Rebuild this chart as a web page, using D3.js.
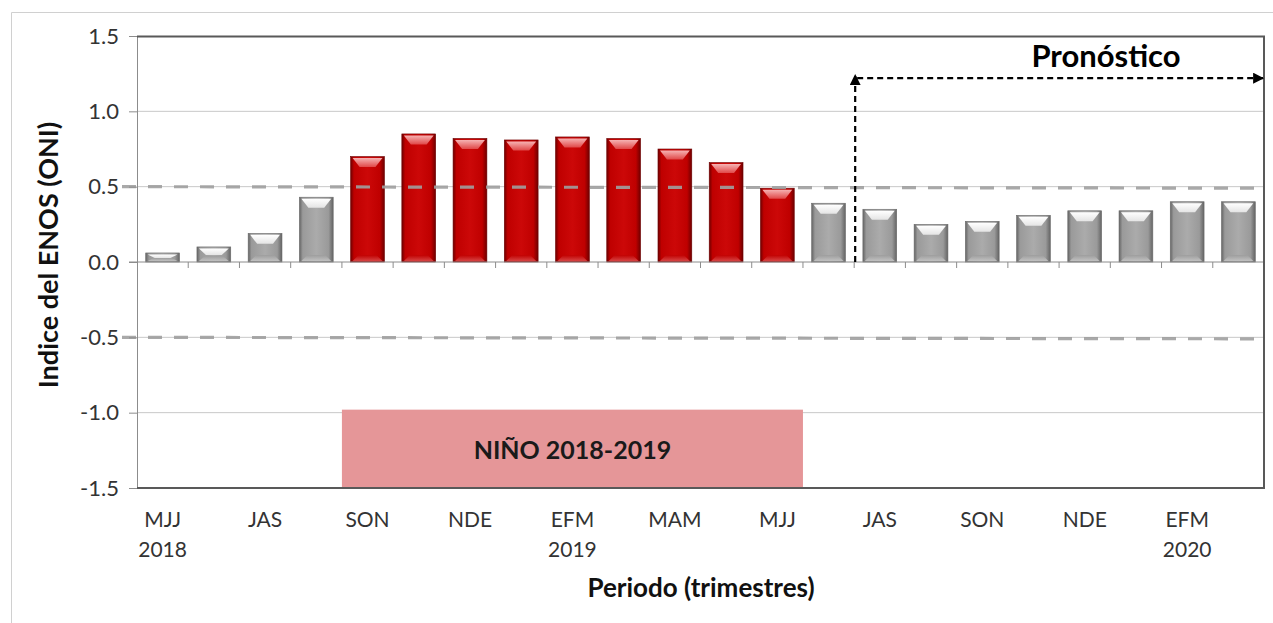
<!DOCTYPE html>
<html>
<head>
<meta charset="utf-8">
<script src="https://cdn.jsdelivr.net/npm/d3@7"></script>
<style>
  body { margin: 0; background: #fff; }
  text { font-family: Lato, "Open Sans", sans-serif; }
</style>
</head>
<body>
<div id="chart"></div>
<script>
// trimestres, May-Jun-Jul 2018 .. Feb-Mar-Apr 2020
var categories = ["MJJ18", "JJA18", "JAS18", "ASO18", "SON18", "OND18", "NDE18", "DEF18",
  "EFM19", "FMA19", "MAM19", "AMJ19", "MJJ19", "JJA19", "JAS19", "ASO19",
  "SON19", "OND19", "NDE19", "DEF19", "EFM20", "FMA20"];
var tickLabels = ["MJJ", "", "JAS", "", "SON", "", "NDE", "", "EFM", "", "MAM", "",
  "MJJ", "", "JAS", "", "SON", "", "NDE", "", "EFM", ""];
var yearLabels = ["2018", "", "", "", "", "", "", "", "2019", "", "", "",
  "", "", "", "", "", "", "", "", "2020", ""];
var oni = [0.06, 0.10, 0.19, 0.43, 0.70, 0.85, 0.82, 0.81, 0.83, 0.82, 0.75, 0.66,
  0.49, 0.39, 0.35, 0.25, 0.27, 0.31, 0.34, 0.34, 0.40, 0.40];
var ninoCats = ["SON18", "OND18", "NDE18", "DEF18", "EFM19", "FMA19", "MAM19", "AMJ19", "MJJ19"];
var forecastStart = "JAS19";
var yTicks = [-1.5, -1.0, -0.5, 0.0, 0.5, 1.0, 1.5];
var thresholds = [0.5, -0.5];

var W = 1273, H = 623;
var margin = { top: 36, right: 10, bottom: 135, left: 137 },
  width = 1264 - margin.left,
  height = 488 - margin.top;

var svg = d3.select("#chart").append("svg")
  .attr("width", W).attr("height", H);

// outer frame
svg.append("path")
  .attr("d", "M11.5," + H + "V12.5H" + W)
  .attr("fill", "none").attr("stroke", "#d0d0d0").attr("stroke-width", 1);

var g = svg.append("g")
  .attr("transform", "translate(" + margin.left + "," + margin.top + ")");

var x = d3.scaleBand().domain(categories).range([0, width]).padding(0);
var y = d3.scaleLinear().domain([-1.5, 1.5]).range([height, 0]);

var defs = svg.append("defs");
function barGrad(id, edge, mid, light) {
  var lg = defs.append("linearGradient").attr("id", id)
    .attr("x1", "0").attr("x2", "1").attr("y1", "0").attr("y2", "0");
  lg.append("stop").attr("offset", "0").attr("stop-color", edge);
  lg.append("stop").attr("offset", "0.1").attr("stop-color", mid);
  lg.append("stop").attr("offset", "0.5").attr("stop-color", light);
  lg.append("stop").attr("offset", "0.86").attr("stop-color", mid);
  lg.append("stop").attr("offset", "1").attr("stop-color", edge);
}
barGrad("gRed", "#6e0000", "#bf0000", "#cc0808");
barGrad("gGray", "#646464", "#9a9a9a", "#ababab");
function capGrad(id, top, bottom) {
  var lg = defs.append("linearGradient").attr("id", id)
    .attr("x1", "0").attr("x2", "0").attr("y1", "0").attr("y2", "1");
  lg.append("stop").attr("offset", "0").attr("stop-color", top);
  lg.append("stop").attr("offset", "1").attr("stop-color", bottom);
}
capGrad("cRed", "#f6b3b3", "#e04848");
capGrad("cGray", "#ffffff", "#e4e4e4");
capGrad("bRed", "#c00000", "#d94a4a");
capGrad("bGray", "#9c9c9c", "#c4c4c4");

// gridlines
g.append("g").selectAll("line")
  .data(yTicks.filter(function (d) { return d !== 0 && Math.abs(d) !== 1.5; }))
  .enter().append("line")
  .attr("x1", 0).attr("x2", width)
  .attr("y1", function (d) { return y(d); }).attr("y2", function (d) { return y(d); })
  .attr("stroke", "#c8c8c8").attr("stroke-width", 1);

// El Niño box
var nx0 = x(ninoCats[0]), nx1 = x(ninoCats[ninoCats.length - 1]) + x.bandwidth();
g.append("rect")
  .attr("x", nx0).attr("y", y(-0.98))
  .attr("width", nx1 - nx0).attr("height", y(-1.5) - y(-0.98))
  .attr("fill", "#e59698");
g.append("text")
  .attr("x", (nx0 + nx1) / 2).attr("y", y(-1.25))
  .attr("dy", "0.36em")
  .attr("text-anchor", "middle")
  .attr("font-size", 25).attr("font-weight", "bold").attr("fill", "#1a1a1a")
  .text("NIÑO 2018-2019");

// bars
var bw = x.bandwidth() * 0.66;
var bars = g.append("g").selectAll("g")
  .data(categories.map(function (c, i) { return { cat: c, v: oni[i], nino: ninoCats.indexOf(c) >= 0 }; }))
  .enter().append("g")
  .attr("transform", function (d) {
    return "translate(" + (x(d.cat) + (x.bandwidth() - bw) / 2) + ",0)";
  });

bars.append("rect")
  .attr("x", 0).attr("y", function (d) { return y(d.v); })
  .attr("width", bw).attr("height", function (d) { return y(0) - y(d.v); })
  .attr("fill", function (d) { return d.nino ? "url(#gRed)" : "url(#gGray)"; })
  .attr("stroke", function (d) { return d.nino ? "#6e0000" : "#6a6a6a"; })
  .attr("stroke-width", 0.6);

// top bevel face
bars.append("path")
  .attr("d", function (d) {
    var t = y(d.v) + 1.5, h = Math.min(9, (y(0) - y(d.v)) / 2 - 1);
    return "M2," + t + "H" + (bw - 2) + "L" + (bw - 9) + "," + (t + h) + "H9Z";
  })
  .attr("fill", function (d) { return d.nino ? "url(#cRed)" : "url(#cGray)"; });

// bottom bevel face
bars.append("path")
  .attr("d", function (d) {
    var b = y(0) - 1, h = Math.min(6, (y(0) - y(d.v)) / 3);
    return "M2," + b + "H" + (bw - 2) + "L" + (bw - 8) + "," + (b - h) + "H8Z";
  })
  .attr("fill", function (d) { return d.nino ? "url(#bRed)" : "url(#bGray)"; })
  .attr("opacity", 0.9);

// threshold dashed lines
g.append("g").selectAll("line")
  .data(thresholds).enter().append("line")
  .attr("x1", -15).attr("x2", width)
  .attr("y1", function (d) { return y(d); }).attr("y2", function (d) { return y(d) + 1.5; })
  .attr("stroke", "#a0a0a0").attr("stroke-width", 3.2)
  .attr("stroke-dasharray", "14,12").attr("opacity", 0.9);

// zero axis with category ticks
g.append("line")
  .attr("x1", -8).attr("x2", width)
  .attr("y1", y(0)).attr("y2", y(0))
  .attr("stroke", "#8c8c8c").attr("stroke-width", 1);
g.append("g").selectAll("line")
  .data(categories.slice(1)).enter().append("line")
  .attr("x1", function (d) { return x(d); }).attr("x2", function (d) { return x(d); })
  .attr("y1", y(0)).attr("y2", y(0) + 6)
  .attr("stroke", "#8c8c8c").attr("stroke-width", 1);

// y axis (plain hyphen as minus, like the original)
var yAxis = g.append("g")
  .call(d3.axisLeft(y).tickValues(yTicks).tickSize(8).tickPadding(10)
    .tickFormat(function (d) { return d.toFixed(1); }));
yAxis.select(".domain").attr("stroke", "#8c8c8c");
yAxis.selectAll(".tick line").attr("stroke", "#8c8c8c");
yAxis.selectAll(".tick text")
  .attr("font-size", 22).attr("fill", "#333")
  .style("font-family", "Lato, 'Open Sans', sans-serif");

// plot frame (top, right, bottom)
g.append("path")
  .attr("d", "M0,0.5H" + width + "V" + height + "H0")
  .attr("fill", "none").attr("stroke", "#595959").attr("stroke-width", 2);

// x labels
var xl = g.append("g").attr("transform", "translate(0," + (height + 39) + ")");
xl.selectAll("text.t1")
  .data(categories).enter().append("text")
  .attr("class", "t1")
  .attr("x", function (d) { return x(d) + x.bandwidth() / 2; })
  .attr("text-anchor", "middle")
  .attr("font-size", 21).attr("fill", "#333")
  .text(function (d, i) { return tickLabels[i]; });
xl.selectAll("text.t2")
  .data(categories).enter().append("text")
  .attr("class", "t2")
  .attr("x", function (d) { return x(d) + x.bandwidth() / 2; })
  .attr("y", 30)
  .attr("text-anchor", "middle")
  .attr("font-size", 21).attr("fill", "#333")
  .text(function (d, i) { return yearLabels[i]; });

// axis titles
svg.append("text")
  .attr("x", 701).attr("y", 597)
  .attr("text-anchor", "middle")
  .attr("font-size", 26).attr("font-weight", "bold").attr("fill", "#111")
  .text("Periodo (trimestres)");
svg.append("text")
  .attr("transform", "translate(58,255) rotate(-90)")
  .attr("text-anchor", "middle")
  .attr("font-size", 27).attr("font-weight", "bold").attr("fill", "#111")
  .text("Indice del ENOS (ONI)");

// forecast arrow
defs.append("marker").attr("id", "arrow")
  .attr("viewBox", "0 0 10 10").attr("refX", 9).attr("refY", 5)
  .attr("markerWidth", 5).attr("markerHeight", 5)
  .attr("orient", "auto-start-reverse")
  .append("path").attr("d", "M0,0L10,5L0,10Z").attr("fill", "#000");
var fx = x(forecastStart);
g.append("line")
  .attr("x1", fx + 1).attr("x2", fx + 1)
  .attr("y1", y(0)).attr("y2", y(1.24))
  .attr("stroke", "#000").attr("stroke-width", 2.2)
  .attr("stroke-dasharray", "6,4")
  .attr("marker-end", "url(#arrow)");
g.append("line")
  .attr("x1", fx + 3).attr("x2", width - 1)
  .attr("y1", y(1.22)).attr("y2", y(1.22))
  .attr("stroke", "#000").attr("stroke-width", 2.2)
  .attr("stroke-dasharray", "6,4")
  .attr("marker-end", "url(#arrow)");
g.append("text")
  .attr("x", 1106 - margin.left).attr("y", y(1.295))
  .attr("text-anchor", "middle")
  .attr("font-size", 31).attr("font-weight", "bold").attr("fill", "#000")
  .text("Pronóstico");
</script>
</body>
</html>
